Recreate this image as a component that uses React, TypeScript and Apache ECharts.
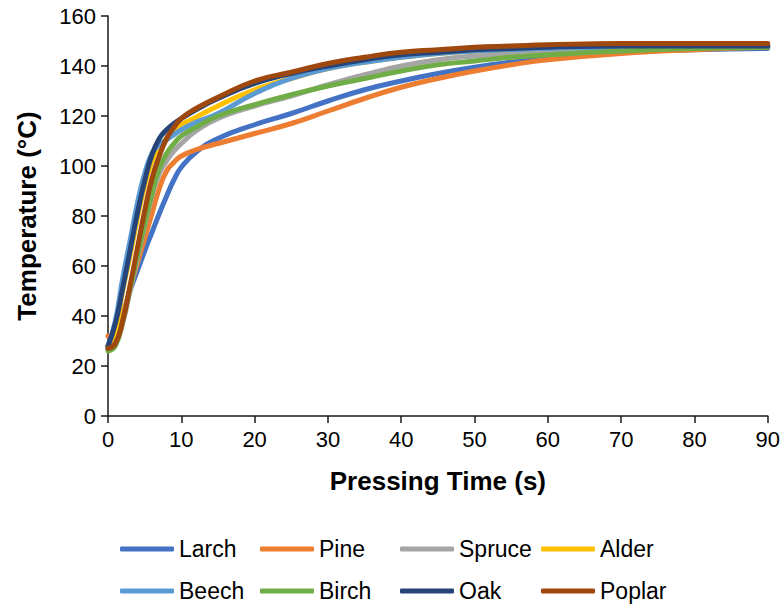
import React, { useEffect, useRef } from "react";
import * as echarts from "echarts";

const times = [0, 1, 2, 3, 4, 5, 6, 7, 8, 9, 10, 12, 15, 20, 25, 30, 35, 40, 45, 50, 55, 60, 70, 80, 90];

const larch = [27, 31, 40, 50, 58, 66, 73.5, 81, 88, 94.5, 99.5, 105.5, 111, 116.5, 121, 126, 130.5, 134, 137, 139.5, 141.5, 143, 145.5, 146.5, 147];
const pine = [32, 33, 40, 51, 61, 71, 81, 91, 98, 101.5, 104, 106.5, 109, 113, 117, 122, 127, 131.5, 135, 138, 140.5, 142.5, 145, 146.5, 147.5];
const spruce = [27, 29, 37, 50, 63, 76, 88, 97, 102, 106, 109, 114, 119, 124, 128, 132.5, 136.5, 140, 142.5, 144, 145, 146, 147, 147.5, 148];
const alder = [28, 34, 50, 64, 79, 92, 102, 107.5, 111, 114, 116.5, 119.5, 124, 130.5, 135, 139, 141.5, 143.5, 145, 146, 146.5, 147, 147.5, 148, 148];
const beech = [28, 38, 55, 70, 85, 97, 105, 108.5, 110.5, 112.5, 114.5, 117.5, 121, 129, 135, 139, 141.5, 143.5, 145, 146, 146.5, 147, 147.5, 148, 148];
const birch = [26, 28, 38, 51, 64, 77, 89, 99, 105, 109, 112, 115.5, 120, 124.5, 128.5, 132, 135, 138, 140.5, 142, 143.5, 144.5, 146, 147, 147.5];
const oak = [28, 37, 51, 66, 81, 94, 104.5, 111, 114.5, 117, 119, 122.5, 127, 133, 137, 140, 142.5, 144.5, 145.5, 146.5, 147, 147.5, 148, 148, 148];
const poplar = [27, 29, 38, 52, 67, 82, 95, 104, 111, 115.5, 119, 123, 127.5, 134, 137.5, 141, 143.5, 145.5, 146.5, 147.5, 148, 148.5, 149, 149, 149];

const seriesNames = ["Larch", "Pine", "Spruce", "Alder", "Beech", "Birch", "Oak", "Poplar"];
const seriesValues = [larch, pine, spruce, alder, beech, birch, oak, poplar];
const colors = ["#4472C4", "#ED7D31", "#A5A5A5", "#FFC000", "#5B9BD5", "#70AD47", "#264478", "#9E480E"];

const FONT = "Arial, 'Liberation Sans', sans-serif";

export default function App() {
  const ref = useRef<HTMLDivElement>(null);
  useEffect(() => {
    if (!ref.current) return;
    const chart = echarts.init(ref.current, undefined, { renderer: "svg" });
    const legendCols = [
      { names: ["Larch", "Beech"], left: 120 },
      { names: ["Pine", "Birch"], left: 260 },
      { names: ["Spruce", "Oak"], left: 400 },
      { names: ["Alder", "Poplar"], left: 541 },
    ];
    const axisColor = "#1a1a1a";
    chart.setOption({
      animation: false,
      backgroundColor: "#ffffff",
      textStyle: { fontFamily: FONT },
      grid: { left: 108, right: 15, top: 16, bottom: 193, containLabel: false },
      legend: legendCols.map((c) => ({
        data: c.names,
        orient: "vertical",
        left: c.left,
        top: 537,
        itemWidth: 54,
        itemHeight: 5,
        itemGap: 18,
        icon: "roundRect",
        textStyle: { fontSize: 23, color: "#000", fontFamily: FONT, lineHeight: 24 },
        padding: 0,
      })),
      xAxis: {
        type: "value",
        min: 0,
        max: 90,
        interval: 10,
        name: "Pressing Time (s)",
        nameLocation: "middle",
        nameGap: 52,
        nameTextStyle: { fontSize: 26, fontWeight: "bold", color: "#000", fontFamily: FONT },
        axisLine: { show: true, onZero: false, lineStyle: { color: axisColor, width: 1.5 } },
        axisTick: { show: true, length: 7, lineStyle: { color: axisColor, width: 1.5 } },
        axisLabel: { fontSize: 22, color: "#000", margin: 12, fontFamily: FONT },
        splitLine: { show: false },
      },
      yAxis: {
        type: "value",
        min: 0,
        max: 160,
        interval: 20,
        name: "Temperature (°C)",
        nameLocation: "middle",
        nameGap: 68,
        nameTextStyle: { fontSize: 26, fontWeight: "bold", color: "#000", fontFamily: FONT },
        axisLine: { show: true, lineStyle: { color: axisColor, width: 1.5 } },
        axisTick: { show: true, length: 7, lineStyle: { color: axisColor, width: 1.5 } },
        axisLabel: { fontSize: 22, color: "#000", margin: 12, fontFamily: FONT },
        splitLine: { show: false },
      },
      series: seriesNames.map((name, i) => ({
        name,
        type: "line",
        data: times.map((t, j) => [t, seriesValues[i][j]]),
        showSymbol: false,
        symbol: "none",
        smooth: 0.5,
        color: colors[i],
        lineStyle: { width: 5, color: colors[i], cap: "round", join: "round" },
        itemStyle: { color: colors[i] },
        emphasis: { disabled: true },
      })),
    });
    return () => chart.dispose();
  }, []);
  return <div ref={ref} style={{ width: 783, height: 609, position: "absolute", left: 0, top: 0 }} />;
}
